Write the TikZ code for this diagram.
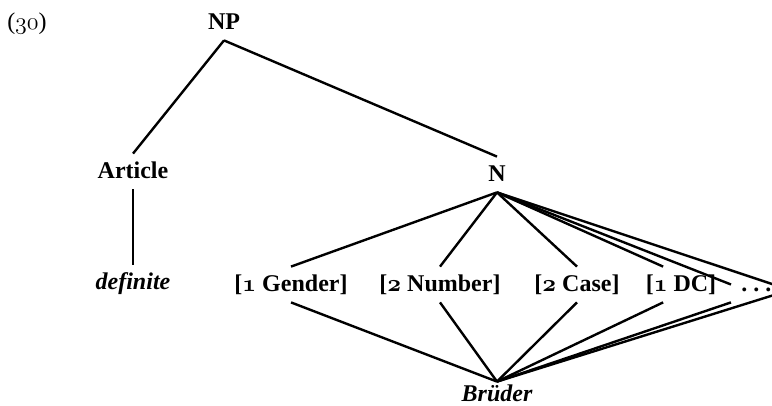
\documentclass[tikz,border=0pt]{standalone}
\usepackage{fontspec}
\setmainfont{Liberation Serif}
\newcommand{\osnum}[1]{{\usefont{OML}{cmm}{m}{it}#1}}
\newcommand{\osbnum}[1]{{\usefont{OML}{cmm}{b}{it}#1}}
\tikzset{
  cat/.style={font=\fontsize{12}{14}\bfseries, inner sep=5pt, text height=7.5pt, text depth=0pt},
  word/.style={cat, font=\fontsize{12}{14}\bfseries\itshape},
  branch/.style={line width=1.2pt}
}
\begin{document}
\begin{tikzpicture}[x=0.5pt,y=-0.5pt]
\useasboundingbox (0,0) rectangle (772,406);
\node[cat, font=\fontsize{12}{14}\selectfont] (ex) at (27,22.5) {(\osnum{30})};
\node[cat] (NP) at (224,22.5) {NP};
\node[cat] (Art) at (133,171.5) {Article};
\node[word] (def) at (133,282.5) {definite};
\node[cat] (N) at (497,174.5) {N};
\node[cat] (gen) at (291,284.5) {[\osbnum{1} Gender]};
\node[cat] (num) at (440,284.5) {[\osbnum{2} Number]};
\node[cat] (cas) at (577,284.5) {[\osbnum{2} Case]};
\node[cat] (dc) at (681,284.5) {[\osbnum{1} DC]};
\node[cat, anchor=west] (dots) at (731,284.5) {.\hspace{3pt}.\hspace{3pt}.};
\node[word, inner sep=2.5pt] (Br) at (497,394.5) {Brüder};
\coordinate (more) at (790,290);
\draw[branch] (NP.south) -- (Art.north);
\draw[branch] (NP.south) -- (N.north);
\draw[branch] (Art.south) -- (def.north);
\foreach \f in {gen,num,cas}
  \draw[branch] (N.south) -- (\f.north) (\f.south) -- (Br.north);
\draw[branch] (N.south) -- (dc.135) (dc.225) -- (Br.north);
\draw[branch] (N.south) -- (dots.west) (dots.south west) -- (Br.north);
\draw[branch] (N.south) -- (more) -- (Br.north);
\end{tikzpicture}
\end{document}
